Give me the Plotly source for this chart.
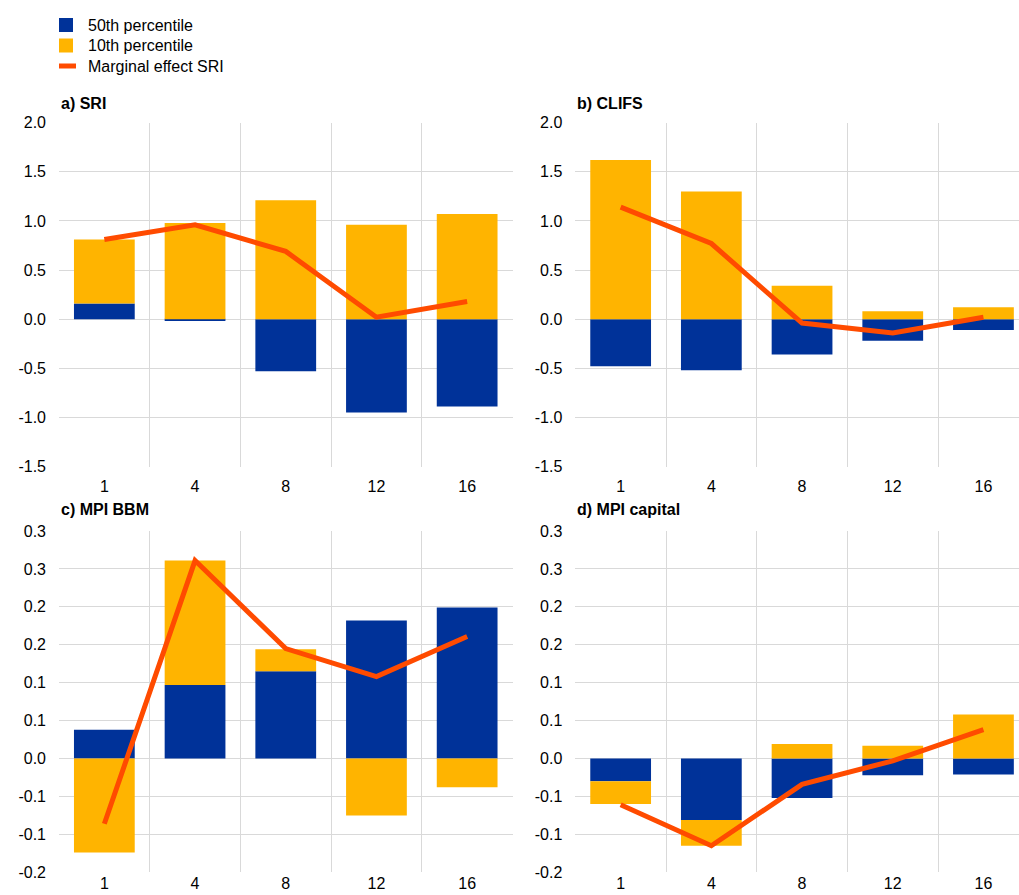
import plotly.graph_objects as go

W, H = 1019, 895

# Horizons (quarters)
horizons = ["1", "4", "8", "12", "16"]

# a) SRI
sri_p50 = [0.16, -0.02, -0.53, -0.95, -0.89]
sri_p10 = [0.65, 0.98, 1.21, 0.96, 1.07]
sri_me = [0.81, 0.96, 0.69, 0.02, 0.18]

# b) CLIFS
clifs_p50 = [-0.48, -0.52, -0.36, -0.22, -0.11]
clifs_p10 = [1.62, 1.30, 0.34, 0.08, 0.12]
clifs_me = [1.14, 0.77, -0.04, -0.14, 0.02]

# c) MPI BBM
bbm_p50 = [0.038, 0.097, 0.115, 0.182, 0.199]
bbm_p10 = [-0.124, 0.164, 0.029, -0.075, -0.038]
bbm_me = [-0.086, 0.261, 0.145, 0.108, 0.161]

# d) MPI capital
cap_p50 = [-0.030, -0.081, -0.052, -0.022, -0.021]
cap_p10 = [-0.030, -0.034, 0.019, 0.017, 0.058]
cap_me = [-0.061, -0.115, -0.034, -0.003, 0.038]

# Y-axis ticks
top_tickvals = [-1.5, -1.0, -0.5, 0.0, 0.5, 1.0, 1.5, 2.0]
top_ticktext = ["-1.5", "-1.0", "-0.5", "0.0", "0.5", "1.0", "1.5", "2.0"]
bot_tickvals = [-0.15, -0.10, -0.05, 0.0, 0.05, 0.10, 0.15, 0.20, 0.25, 0.30]
bot_ticktext = ["-0.2", "-0.1", "-0.1", "0.0", "0.1", "0.1", "0.2", "0.2", "0.3", "0.3"]

panel_titles = ["a) SRI", "b) CLIFS", "c) MPI BBM", "d) MPI capital"]
legend_labels = ["50th percentile", "10th percentile", "Marginal effect SRI"]

BLUE = "#003299"
YELLOW = "#FFB400"
ORANGE = "#FF4B00"
GRID = "#d9d9d9"
FONT = "Liberation Sans, Arial, sans-serif"


def px_x(v):
    return v / W


def px_y(v):
    return 1 - v / H


panels = [
    (sri_p50, sri_p10, sri_me, "x", "y"),
    (clifs_p50, clifs_p10, clifs_me, "x2", "y2"),
    (bbm_p50, bbm_p10, bbm_me, "x3", "y3"),
    (cap_p50, cap_p10, cap_me, "x4", "y4"),
]

fig = go.Figure()
for p50, p10, me, xa, ya in panels:
    fig.add_trace(go.Bar(x=horizons, y=p50, marker=dict(color=BLUE, line=dict(width=0)),
                         xaxis=xa, yaxis=ya, showlegend=False, name=legend_labels[0]))
    fig.add_trace(go.Bar(x=horizons, y=p10, marker=dict(color=YELLOW, line=dict(width=0)),
                         xaxis=xa, yaxis=ya, showlegend=False, name=legend_labels[1]))
    fig.add_trace(go.Scatter(x=horizons, y=me, mode="lines",
                             line=dict(color=ORANGE, width=5),
                             xaxis=xa, yaxis=ya, showlegend=False, name=legend_labels[2]))

# panel geometry in pixels: (left, right, top, bottom)
geo = {
    1: (59, 512.5, 122.7, 466.5),
    2: (575.3, 1019, 122.7, 466.5),
    3: (59, 512.5, 531, 872.3),
    4: (575.3, 1019, 531, 872.3),
}

xcommon = dict(type="category", tickson="boundaries", showgrid=True, gridcolor=GRID,
               gridwidth=1, showline=False, zeroline=False, ticks="", automargin=False,
               tickfont=dict(size=16, color="#000", family=FONT))
ycommon = dict(showgrid=True, gridcolor=GRID, gridwidth=1, zeroline=True,
               zerolinecolor=GRID, zerolinewidth=1, showline=False, ticks="",
               automargin=False, ticklabelstandoff=12,
               tickfont=dict(size=16, color="#000", family=FONT))

layout = {}
for i in range(1, 5):
    l, r, t, b = geo[i]
    sx = "" if i == 1 else str(i)
    xr = [-0.5, 4.5] if r < 1000 else [-0.5, -0.5 + (r - l) / 90.7]
    # lower row keeps its horizon labels inside the page
    standoff = 8 if i <= 2 else 0
    layout["xaxis" + sx] = dict(xcommon, domain=[px_x(l), min(px_x(r), 1)],
                                anchor="y" + sx, range=xr, ticklabelstandoff=standoff)
    if i <= 2:
        ylay = dict(ycommon, domain=[px_y(b), px_y(t)], range=[-1.5, 2.0],
                    tickvals=top_tickvals, ticktext=top_ticktext)
    else:
        ylay = dict(ycommon, domain=[px_y(b), px_y(t)], range=[-0.15, 0.30],
                    tickvals=bot_tickvals, ticktext=bot_ticktext)
    layout["yaxis" + sx] = dict(ylay, anchor="x" + sx)

annotations = []
title_pos = [(59, 103.5), (575.3, 103.5), (59, 510), (575.3, 510)]
for txt, (tx, ty) in zip(panel_titles, title_pos):
    annotations.append(dict(text="<b>" + txt + "</b>", x=px_x(tx), y=px_y(ty),
                            xref="paper", yref="paper", xanchor="left", yanchor="middle",
                            showarrow=False, font=dict(size=16, color="#000", family=FONT)))

# legend drawn as swatches plus text
shapes = [
    dict(type="rect", xref="paper", yref="paper", x0=px_x(59), x1=px_x(73),
         y0=px_y(32), y1=px_y(18), fillcolor=BLUE, line=dict(width=0)),
    dict(type="rect", xref="paper", yref="paper", x0=px_x(59), x1=px_x(73),
         y0=px_y(52.5), y1=px_y(38.5), fillcolor=YELLOW, line=dict(width=0)),
    dict(type="line", xref="paper", yref="paper", x0=px_x(59), x1=px_x(76),
         y0=px_y(66), y1=px_y(66), line=dict(color=ORANGE, width=5)),
]
for lbl, ly in zip(legend_labels, [25, 45.5, 66]):
    annotations.append(dict(text=lbl, x=px_x(86), y=px_y(ly), xref="paper", yref="paper",
                            xanchor="left", yanchor="middle", showarrow=False,
                            font=dict(size=16, color="#000", family=FONT)))

fig.update_layout(
    **layout,
    width=W, height=H,
    margin=dict(l=0, r=0, t=0, b=0, pad=0, autoexpand=False),
    paper_bgcolor="white", plot_bgcolor="white",
    barmode="relative", bargap=0.33,
    annotations=annotations, shapes=shapes,
    font=dict(family=FONT, size=16, color="#000"),
    showlegend=False,
)

fig.write_html("out.html")
